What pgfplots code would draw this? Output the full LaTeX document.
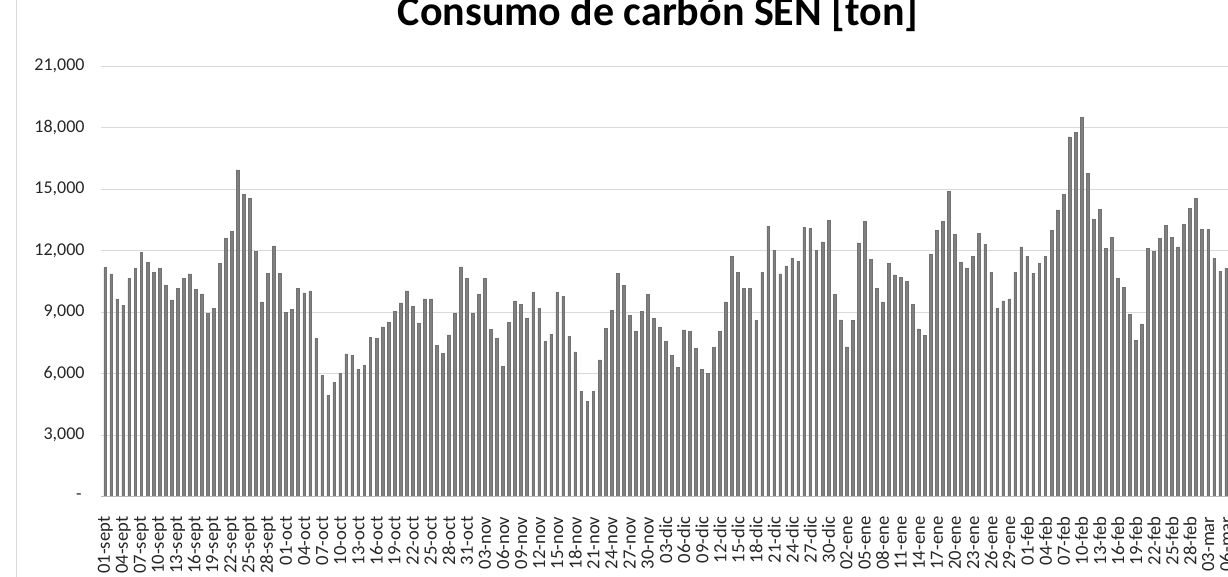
\documentclass[border=0pt]{standalone}
\usepackage{fontspec}
\setmainfont{Carlito}
\usepackage{pgfplots}
\pgfplotsset{compat=1.18}
\usepackage{pgfplotstable}
\definecolor{barc}{HTML}{808080}
\definecolor{bare}{HTML}{727272}
\definecolor{gridc}{HTML}{D9D9D9}
\definecolor{tickc}{HTML}{262626}
\pgfplotstableread{
x y
0 11170
1 10870
2 9650
3 9340
4 10660
5 11120
6 11910
7 11410
8 10920
9 11120
10 10300
11 9600
12 10160
13 10660
14 10870
15 10110
16 9890
17 8930
18 9180
19 11360
20 12580
21 12930
22 15930
23 14750
24 14560
25 11960
26 9500
27 10900
28 12230
29 10900
30 9000
31 9130
32 10140
33 9940
34 10040
35 7730
36 5900
37 4940
38 5590
39 6030
40 6960
41 6900
42 6190
43 6410
44 7760
45 7710
46 8280
47 8530
48 9050
49 9450
50 10040
51 9290
52 8480
53 9650
54 9650
55 7370
56 6980
57 7890
58 8950
59 11210
60 10640
61 8950
62 9850
63 10640
64 8150
65 7730
66 6360
67 8490
68 9550
69 9390
70 8690
71 9960
72 9180
73 7560
74 7920
75 9960
76 9750
77 7820
78 7060
79 5140
80 4630
81 5140
82 6670
83 8220
84 9100
85 10900
86 10300
87 8840
88 8090
89 9050
90 9850
91 8690
92 8280
93 7560
94 6900
95 6310
96 8130
97 8070
98 7220
99 6190
100 6030
101 7270
102 8070
103 9500
104 11720
105 10950
106 10160
107 10160
108 8590
109 10950
110 13190
111 12010
112 10870
113 11260
114 11610
115 11460
116 13140
117 13070
118 12010
119 12420
120 13480
121 9850
122 8620
123 7300
124 8590
125 12370
126 13430
127 11570
128 10160
129 9500
130 11360
131 10810
132 10690
133 10500
134 9390
135 8180
136 7870
137 11820
138 12980
139 13430
140 14900
141 12780
142 11410
143 11120
144 11720
145 12830
146 12320
147 10950
148 9180
149 9550
150 9650
151 10950
152 12180
153 11720
154 10900
155 11360
156 11720
157 12980
158 13990
159 14750
160 17540
161 17780
162 18480
163 15760
164 13530
165 14000
166 12110
167 12630
168 10640
169 10200
170 8880
171 7610
172 8430
173 12110
174 11960
175 12580
176 13240
177 12630
178 12180
179 13290
180 14070
181 14560
182 13020
183 13020
184 11610
185 11000
186 11150
}\data
\begin{document}
\begin{tikzpicture}
\draw[gridc, line width=0.5pt] (8pt,0) -- (8pt,-288.5pt);
\begin{axis}[
  at={(50.5pt,-248.35pt)}, anchor=south west,
  scale only axis, width=564.1pt, height=215.35pt,
  xmin=-0.7, xmax=186.5, ymin=0, ymax=21000,
  ybar, bar width=1.35pt,
  scaled y ticks=false,
  axis line style={draw=none},
  tick style={draw=none},
  ymajorgrids, grid style={draw=gridc, line width=0.5pt},
  ytick={0,3000,6000,9000,12000,15000,18000,21000},
  yticklabels={{-\hspace*{1.5pt}},{3,000},{6,000},{9,000},{12,000},{15,000},{18,000},{21,000}},
  yticklabel style={anchor=east, inner sep=0pt, xshift=-8pt, text=tickc, font=\fontsize{9}{10}\selectfont},
  xtick={0,3,...,186},
  xticklabels={01-sept,04-sept,07-sept,10-sept,13-sept,16-sept,19-sept,22-sept,25-sept,28-sept,
    01-oct,04-oct,07-oct,10-oct,13-oct,16-oct,19-oct,22-oct,25-oct,28-oct,31-oct,
    03-nov,06-nov,09-nov,12-nov,15-nov,18-nov,21-nov,24-nov,27-nov,30-nov,
    03-dic,06-dic,09-dic,12-dic,15-dic,18-dic,21-dic,24-dic,27-dic,30-dic,
    02-ene,05-ene,08-ene,11-ene,14-ene,17-ene,20-ene,23-ene,26-ene,29-ene,
    01-feb,04-feb,07-feb,10-feb,13-feb,16-feb,19-feb,22-feb,25-feb,28-feb,
    03-mar,06-mar},
  xticklabel style={yshift=-5.5pt, rotate=90, anchor=east, inner sep=0pt, text=tickc, font=\fontsize{9.3}{10}\selectfont},
  clip=false,
]
\addplot[fill=barc, draw=bare, line width=0.25pt] table[x=x,y=y]{\data};
\draw[gray!55, line width=0.75pt] (rel axis cs:0,0) -- (rel axis cs:1,0);
\end{axis}
\node[font=\bfseries\fontsize{21}{25}\selectfont, anchor=base] at (329pt,-13pt) {Consumo de carbón SEN [ton]};
\pgfresetboundingbox
\useasboundingbox (0,0) rectangle (614pt,-288.5pt);
\end{tikzpicture}
\end{document}
